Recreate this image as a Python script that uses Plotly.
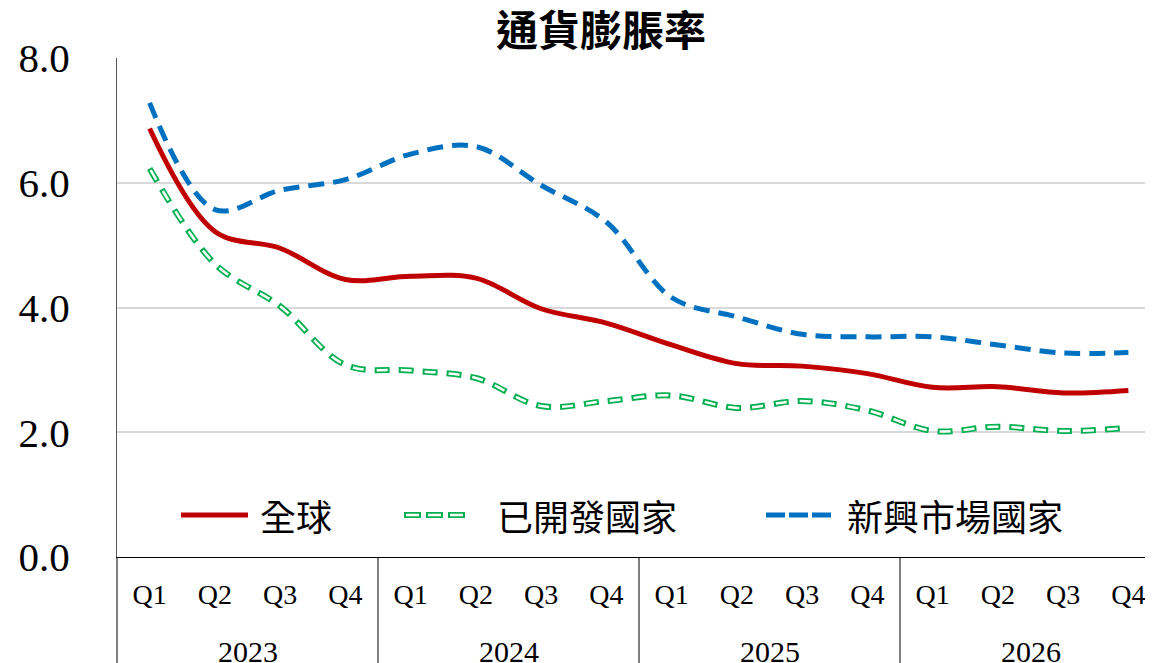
import plotly.graph_objects as go

# ---- data ----
years = ["2023", "2024", "2025", "2026"]
quarters = ["Q1", "Q2", "Q3", "Q4"]
series_names = ["全球", "已開發國家", "新興市場國家"]
world = [6.87, 5.22, 4.95, 4.45, 4.50, 4.47, 3.98, 3.75,
         3.40, 3.10, 3.06, 2.94, 2.72, 2.73, 2.63, 2.67]
developed = [6.23, 4.70, 4.02, 3.08, 2.99, 2.87, 2.42, 2.50,
             2.59, 2.39, 2.50, 2.35, 2.02, 2.09, 2.02, 2.07]
emerging = [7.28, 5.57, 5.88, 6.05, 6.46, 6.58, 5.96, 5.37,
            4.16, 3.85, 3.57, 3.53, 3.53, 3.40, 3.27, 3.28]
y_ticks = [0, 2, 4, 6, 8]

# ---- styling ----
RED = "#C00000"
GREEN = "#00B050"
BLUE = "#0070C0"
SERIF = "Liberation Serif, Times New Roman, serif"
CJK = "Noto Sans CJK TC, Noto Sans, sans-serif"

OFF = 8  # page body margin
H = 663
L, T, R = 109, 50, 0
n_q = len(quarters)
n = n_q * len(years)
unit_px = 65.25
plot_w = unit_px * n
plot_h = 499
B = H - T - plot_h
W = L + int(round(plot_w)) + R
x_vals = list(range(n))
x_range = [-0.5, n - 0.5]

plot_left_win = L + OFF
plot_bottom_win = T + OFF + plot_h

def px_to_paper_x(px):
    return (px - plot_left_win) / plot_w

def py_to_paper_y(py):
    return (plot_bottom_win - py) / plot_h

fig = go.Figure()

fig.add_trace(go.Scatter(x=x_vals, y=developed, mode="lines", name=series_names[1],
                         line=dict(color=GREEN, width=6, shape="spline", dash="15px,9px"),
                         showlegend=False, hoverinfo="skip"))
fig.add_trace(go.Scatter(x=x_vals, y=developed, mode="lines", name=series_names[1],
                         line=dict(color="white", width=2.5, shape="spline", dash="0px,2px,11px,11px"),
                         showlegend=False))
fig.add_trace(go.Scatter(x=x_vals, y=world, mode="lines", name=series_names[0],
                         line=dict(color=RED, width=5, shape="spline"),
                         showlegend=False))
fig.add_trace(go.Scatter(x=x_vals, y=emerging, mode="lines", name=series_names[2],
                         line=dict(color=BLUE, width=5, shape="spline", dash="16px,9px"),
                         showlegend=False))

shapes = []
for gi in range(1, len(years)):
    shapes.append(dict(type="line", xref="x", yref="paper",
                       x0=gi * n_q - 0.5, x1=gi * n_q - 0.5, y0=0, y1=-0.3,
                       line=dict(color="#000000", width=1)))
shapes.append(dict(type="line", xref="paper", yref="paper", x0=0, x1=0, y0=0, y1=-0.3,
                   line=dict(color="#000000", width=1)))

annotations = []
for gi, yr in enumerate(years):
    annotations.append(dict(x=gi * n_q + (n_q - 1) / 2, y=py_to_paper_y(651), xref="x", yref="paper",
                            text=yr, showarrow=False, xanchor="center", yanchor="middle",
                            font=dict(family=SERIF, size=30, color="black")))

leg_y = py_to_paper_y(515)
legend_items = [
    (series_names[0], 181, 248, 258, RED, None, None),
    (series_names[1], 404, 466, 495, GREEN, "17px,5px", "0px,2px,13px,7px"),
    (series_names[2], 766, 832, 845, BLUE, "19px,4px", None),
]
for name, s0, s1, tx, col, dash, inner in legend_items:
    shapes.append(dict(type="line", xref="paper", yref="paper",
                       x0=px_to_paper_x(s0), x1=px_to_paper_x(s1), y0=leg_y, y1=leg_y,
                       line=dict(color=col, width=6 if inner else 5, dash=dash or "solid")))
    if inner:
        shapes.append(dict(type="line", xref="paper", yref="paper",
                           x0=px_to_paper_x(s0), x1=px_to_paper_x(s1), y0=leg_y, y1=leg_y,
                           line=dict(color="white", width=2.5, dash=inner)))
    annotations.append(dict(x=px_to_paper_x(tx), y=leg_y, xref="paper", yref="paper",
                            text=name, showarrow=False, xanchor="left", yanchor="middle",
                            font=dict(family=CJK, size=36, color="black")))

fig.update_layout(
    width=W, height=H,
    margin=dict(l=L, r=R, t=T, b=B, pad=0),
    paper_bgcolor="white", plot_bgcolor="white",
    title=dict(text="<b>通貨膨脹率</b>", x=(601 - OFF) / W, xref="container", xanchor="center",
               y=1 - (31 - OFF) / H, yref="container", yanchor="middle",
               font=dict(family=CJK, size=42, color="black")),
    xaxis=dict(range=x_range, tickmode="array", tickvals=x_vals,
               ticktext=quarters * len(years), ticks="", showgrid=False,
               showline=True, linecolor="#000000", linewidth=1, zeroline=False,
               tickfont=dict(family=SERIF, size=28, color="black"),
               ticklabelstandoff=12, fixedrange=True),
    yaxis=dict(range=[0, 8], tickmode="array", tickvals=y_ticks, tickformat=".1f",
               ticks="", showgrid=True, gridcolor="#D9D9D9", gridwidth=1.5,
               showline=True, linecolor="#595959", linewidth=1, zeroline=False,
               tickfont=dict(family=SERIF, size=41, color="black"),
               ticklabelstandoff=38, fixedrange=True),
    shapes=shapes,
    annotations=annotations,
    showlegend=False,
)

fig.write_html("out.html")
